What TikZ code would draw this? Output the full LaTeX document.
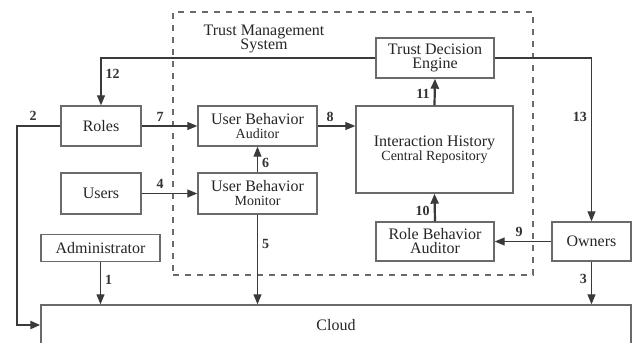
\documentclass[tikz,border=0pt]{standalone}
\usepackage{fontspec}
\setmainfont{Liberation Serif}
\usetikzlibrary{arrows.meta}
\definecolor{linegray}{HTML}{3A3A3A}
\definecolor{boxgray}{HTML}{6A6A6A}
\tikzset{
    box/.style={draw=boxgray, line width=.7pt, inner sep=1pt, align=center,
        font=\fontsize{8}{9}\selectfont, text=black!85},
    lbl/.style={font=\fontsize{7}{8}\selectfont\bfseries, text=black!80,
        inner sep=2pt},
    arr/.style={draw=linegray, line width=.6pt,
        -{Triangle[length=5pt, width=4pt]}},
}
\newcommand{\subline}[1]{{\fontsize{7}{8}\selectfont #1}}

\begin{document}
\begin{tikzpicture}[x=0.5pt, y=-0.5pt]
        \clip (0, 0) rectangle (633, 343);
        \fill[white] (0, 0) rectangle (633, 343);
        % trust management frame
        \node[draw=boxgray, dashed, line width=.7pt, minimum width=180pt,
            minimum height=131.5pt] (tms) at (353, 143.5) {};
        \node[align=center, font=\fontsize{8}{9}\selectfont, text=black!85]
            (tmstitle) at (264, 39) {Trust Management\\[-2pt]System};
        % boxes
        \node[box, minimum width=40pt, minimum height=20pt] (roles)
            at (101, 126) {Roles};
        \node[box, minimum width=40pt, minimum height=20.5pt] (users)
            at (101, 193.5) {Users};
        \node[box, minimum width=59.5pt, minimum height=13.5pt] (admin)
            at (100.5, 248) {Administrator};
        \node[box, minimum width=59.5pt, minimum height=20pt] (uba)
            at (257.5, 126) {User Behavior\\[-2pt]\subline{Auditor}};
        \node[box, minimum width=59.5pt, minimum height=20.5pt] (ubm)
            at (257.5, 193.5) {User Behavior\\[-2pt]\subline{Monitor}};
        \node[box, minimum width=59pt, minimum height=20pt] (tde)
            at (435, 58) {Trust Decision\\[-2pt]Engine};
        \node[box, minimum width=78.5pt, minimum height=43.5pt] (ihcr)
            at (434.5, 149.5) {Interaction History\\[-2pt]\subline{Central Repository}};
        \node[box, minimum width=59pt, minimum height=19.5pt] (rba)
            at (435, 241.5) {Role Behavior\\[-2pt]Auditor};
        \node[box, minimum width=39.5pt, minimum height=19.5pt] (owners)
            at (591.5, 241.5) {Owners};
        \node[box, minimum width=295pt, minimum height=20pt] (cloud)
            at (336, 325) {Cloud};
        % connectors
        \draw[arr] (admin.south) -- (admin.south |- cloud.north)
            node[lbl, pos=.43, right] {1};
        \draw[arr, line width=1.1pt] (roles.west) -- ++(-43, 0)
            node[lbl, pos=.63, above] {2} |- (cloud.west);
        \draw[arr] (owners.south) -- (owners.south |- cloud.north)
            node[lbl, pos=.41, left] {3};
        \draw[arr] (users.east) -- (ubm.west) node[lbl, pos=.33, above] {4};
        \draw[arr] (ubm.south) -- (ubm.south |- cloud.north)
            node[lbl, pos=.33, right] {5};
        \draw[arr] (ubm.north) -- (uba.south) node[lbl, pos=.37, right] {6};
        \draw[arr] (roles.east) -- (uba.west) node[lbl, pos=.33, above] {7};
        \draw[arr] (uba.east) -- (ihcr.west |- uba.east)
            node[lbl, pos=.33, above] {8};
        \draw[arr] (owners.west) -- (rba.east) node[lbl, pos=.57, above] {9};
        \draw[arr, line width=1.1pt] (rba.north) -- (ihcr.south)
            node[lbl, pos=.38, left] {10};
        \draw[arr, line width=1.1pt] (ihcr.north) -- (tde.south)
            node[lbl, pos=.43, left] {11};
        \draw[arr] (tde.west) -| (roles.north) node[lbl, pos=.67, right] {12};
        \draw[arr] (tde.east) -| (owners.north) node[lbl, pos=.68, left] {13};
    \end{tikzpicture}
\end{document}
